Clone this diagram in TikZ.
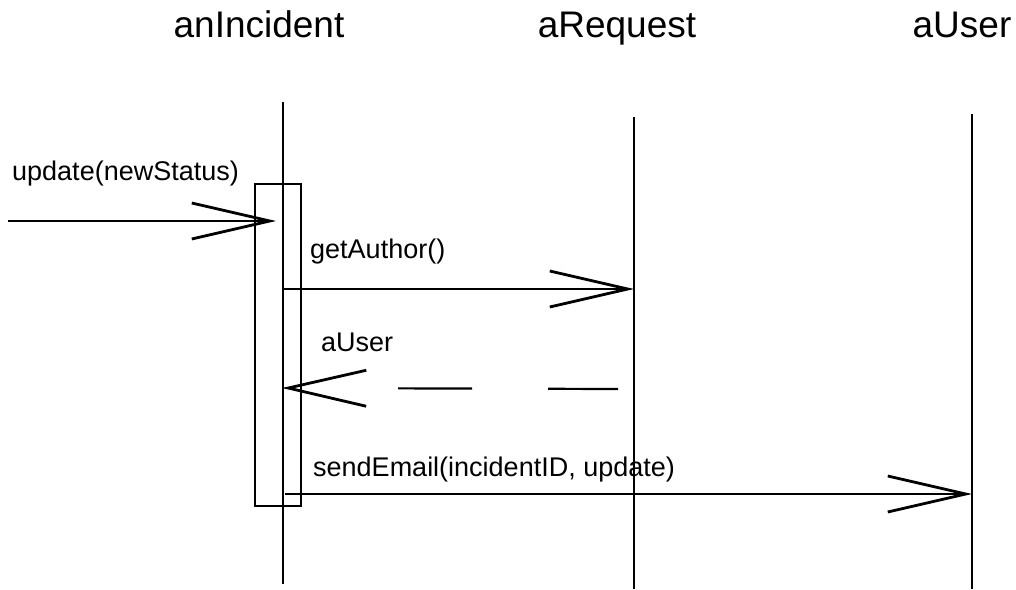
\documentclass[tikz,border=0pt]{standalone}
\usepackage{fontspec}
\setmainfont{Liberation Sans}
\usetikzlibrary{arrows.meta}
\begin{document}
\begin{tikzpicture}[x=1pt,y=-1pt,
  objname/.style={font=\fontsize{37}{40}\selectfont, anchor=base, inner sep=0pt},
  msglabel/.style={font=\fontsize{27}{30}\selectfont, anchor=base west, inner sep=0pt},
  lifeline/.style={line width=1.8pt},
  activation/.style={draw, line width=1.8pt, rectangle, minimum width=46pt, minimum height=322pt, inner sep=0pt},
  openhead/.style={-{Straight Barb[length=78pt, width=36pt, line width=2.8pt]}},
  callmsg/.style={line width=2.2pt, openhead},
  returnmsg/.style={line width=2.2pt, openhead, dash pattern=on 70pt off 76pt on 74pt off 300pt}]
\useasboundingbox (0,0) rectangle (1016,589);

% object headers
\node[objname] (incident) at (259,37) {anIncident};
\node[objname] (request)  at (617,37) {aRequest};
\node[objname] (user)     at (962,37) {aUser};

% lifelines
\coordinate (incTop) at (283,102);
\coordinate (incBot) at (283,584);
\coordinate (reqTop) at (634,117);
\coordinate (reqBot) at (634,589);
\coordinate (usrTop) at (972,114);
\coordinate (usrBot) at (972,589);
\draw[lifeline] (incTop) -- (incBot);
\draw[lifeline] (reqTop) -- (reqBot);
\draw[lifeline] (usrTop) -- (usrBot);

% activation bar of anIncident
\node[activation] (act) at (278,345) {};

% update(newStatus)
\coordinate (updSrc) at (8,221);
\coordinate (updDst) at (276,221);
\node[msglabel] (updLbl) at (12,180) {update(newStatus)};
\draw[callmsg] (updSrc) -- (updDst);

% getAuthor()
\coordinate (gaSrc) at (283,289);
\coordinate (gaDst) at (634,289);
\node[msglabel] (gaLbl) at (310,258) {getAuthor()};
\draw[callmsg] (gaSrc) -- (gaDst);

% return aUser
\coordinate (retSrc) at (618,389);
\coordinate (retDst) at (282,388);
\node[msglabel] (retLbl) at (321,351) {aUser};
\draw[returnmsg] (retSrc) -- (retDst);

% sendEmail(incidentID, update)
\coordinate (seSrc) at (285,494);
\coordinate (seDst) at (972,494);
\node[msglabel] (seLbl) at (313,476) {sendEmail(incidentID, update)};
\draw[callmsg] (seSrc) -- (seDst);
\end{tikzpicture}
\end{document}
